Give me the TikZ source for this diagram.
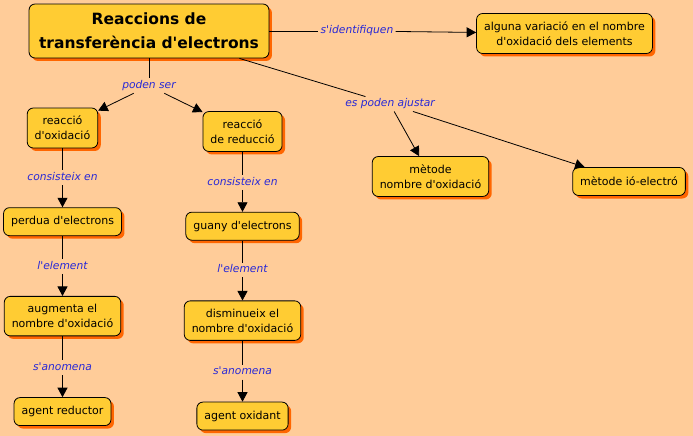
\documentclass[tikz,border=0pt]{standalone}
\usepackage{fontspec}
\setmainfont{DejaVu Sans}[Ligatures=TeXOff]
\usetikzlibrary{arrows.meta,positioning,shadows}
\definecolor{bgpeach}{RGB}{255,204,153}
\definecolor{conceptfill}{RGB}{255,204,51}
\definecolor{shadoworange}{RGB}{255,102,0}
\definecolor{linkblue}{RGB}{40,40,215}

\begin{document}
\begin{tikzpicture}
    [x=1pt,y=-1pt,
    concept/.style={rectangle,rounded corners=6pt,draw=black,fill=conceptfill,line width=0.8pt,
    drop shadow={shadow xshift=3pt,shadow yshift=-3pt,fill=shadoworange,opacity=1},
    align=center,inner xsep=7.5pt,inner ysep=8pt,minimum height=28pt,
    font=\fontsize{11}{15}\selectfont},
    linkword/.style={text=linkblue,font=\fontsize{10.7}{12}\selectfont\itshape,
    inner sep=2pt,text height=8pt,text depth=2.5pt},
    link/.style={draw,line width=0.8pt},
    arrow/.style={draw,line width=0.8pt,-{Triangle[length=9.5pt,width=10pt]}},
    node distance=22pt]
    \fill[bgpeach] (0,0) rectangle (693,436);
    \useasboundingbox (0,0) rectangle (693,436);
    \node[concept,inner xsep=10pt,inner ysep=9pt,font=\fontsize{15.5}{24}\selectfont\bfseries]
        (reaccions) at (149,31) {Reaccions de\\transferència d'electrons};
    \node[linkword] (identifiquen) at (357,31) {s'identifiquen};
    \node[concept] (variacio) at (564.5,33.5) {alguna variació en el nombre\\d'oxidació dels elements};
    \node[linkword] (podenser) [below=20pt of reaccions] {poden ser};
    \node[linkword] (ajustar) at (390,104) {es poden ajustar};
    \node[concept] (nombre) at (430.5,176.5) {mètode\\nombre d'oxidació};
    \node[concept] (ioelectro) at (629,181.5) {mètode ió-electró};
    \node[concept] (oxidacio) at (62.5,128) {reacció\\d'oxidació};
    \node[linkword] (consisteixA) [below=of oxidacio] {consisteix en};
    \node[concept] (perdua) [below=of consisteixA] {perdua d'electrons};
    \node[linkword] (elementA) [below=23pt of perdua] {l'element};
    \node[concept] (augmenta) [below=of elementA] {augmenta el\\nombre d'oxidació};
    \node[linkword] (anomenaA) [below=24pt of augmenta] {s'anomena};
    \node[concept] (reductor) [below=of anomenaA] {agent reductor};
    \node[concept] (reduccio) at (242.5,131.5) {reacció\\de reducció};
    \node[linkword] (consisteixB) [below=23pt of reduccio] {consisteix en};
    \node[concept] (guany) [below=of consisteixB] {guany d'electrons};
    \node[linkword] (elementB) [below=of guany] {l'element};
    \node[concept] (disminueix) [below=23pt of elementB] {disminueix el\\nombre d'oxidació};
    \node[linkword] (anomenaB) [below=24pt of disminueix] {s'anomena};
    \node[concept] (oxidant) [below=of anomenaB] {agent oxidant};
    \draw[link] (reaccions) -- (identifiquen);
    \draw[arrow] (identifiquen) -- (variacio);
    \draw[link] (reaccions) -- (podenser);
    \draw[arrow] (podenser) -- (oxidacio);
    \draw[arrow] (podenser) -- (reduccio);
    \draw[link] (reaccions) -- (ajustar);
    \draw[arrow] (ajustar) -- (nombre);
    \draw[arrow] (ajustar) -- (ioelectro);
    \draw[link] (oxidacio) -- (consisteixA);
    \draw[arrow] (consisteixA) -- (perdua);
    \draw[link] (perdua) -- (elementA);
    \draw[arrow] (elementA) -- (augmenta);
    \draw[link] (augmenta) -- (anomenaA);
    \draw[arrow] (anomenaA) -- (reductor);
    \draw[link] (reduccio) -- (consisteixB);
    \draw[arrow] (consisteixB) -- (guany);
    \draw[link] (guany) -- (elementB);
    \draw[arrow] (elementB) -- (disminueix);
    \draw[link] (disminueix) -- (anomenaB);
    \draw[arrow] (anomenaB) -- (oxidant);
\end{tikzpicture}
\end{document}
